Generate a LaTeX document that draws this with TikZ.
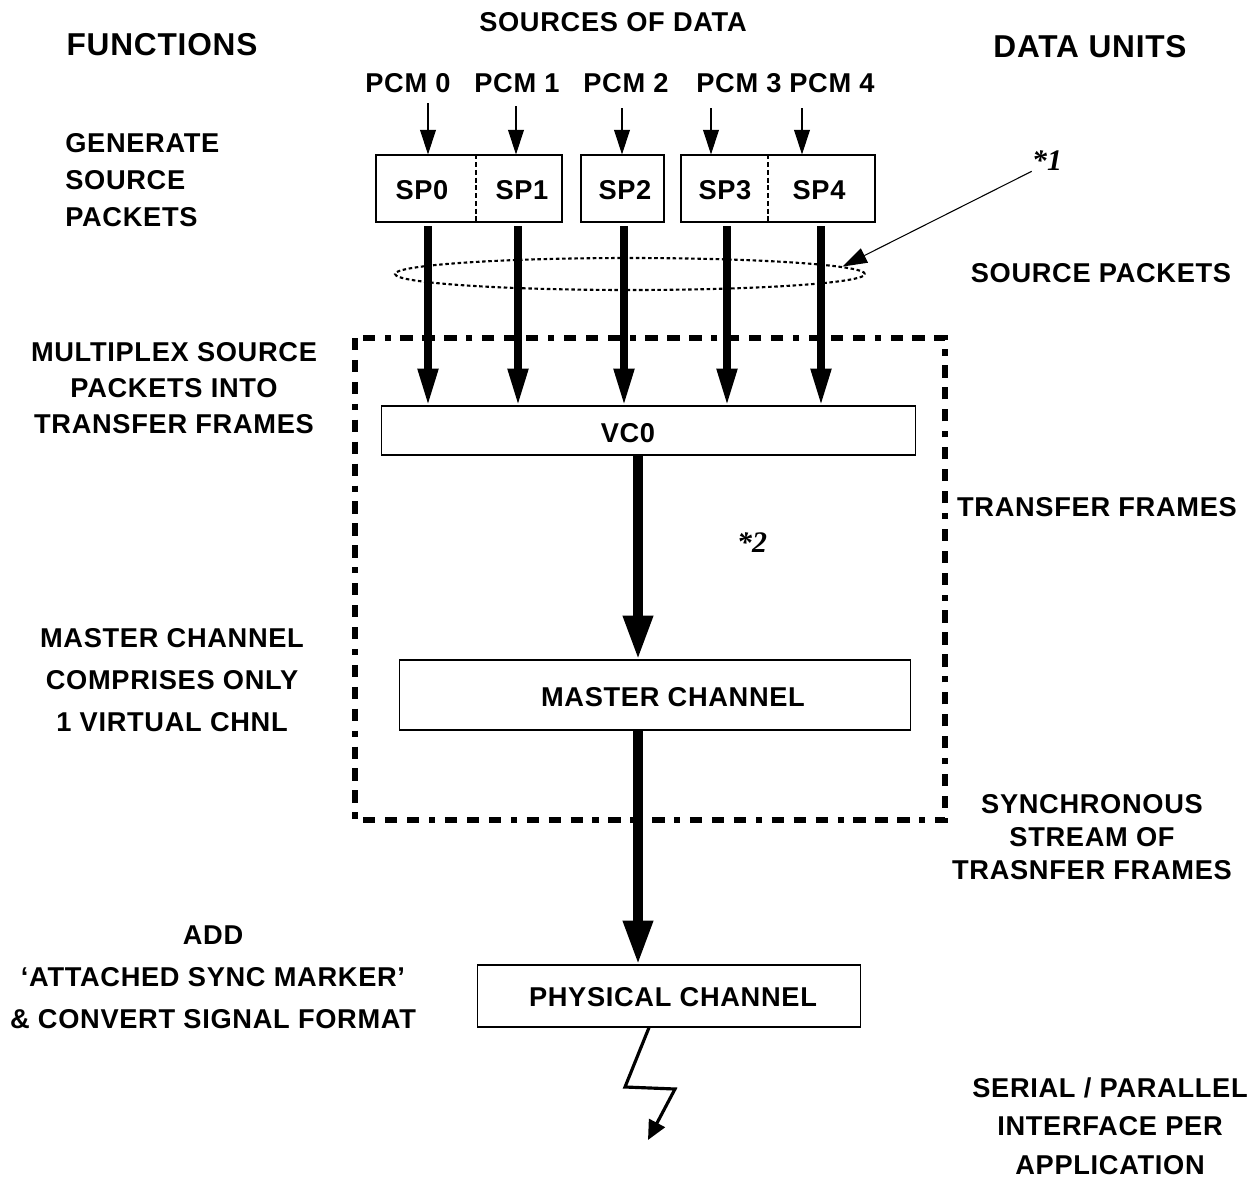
\documentclass[tikz,border=0pt]{standalone}
\usepackage{fontspec}
\setmainfont{Liberation Sans}[LetterSpace=2.5]
\newfontfamily\notefont{Liberation Serif}
\usetikzlibrary{arrows.meta,positioning,shapes.geometric}

\begin{document}
\begin{tikzpicture}[x=0.02cm, y=-0.02cm,
    txt/.style={font=\fontsize{15.5}{#1}\selectfont\bfseries, align=center, inner sep=0pt},
    txt/.default=21pt,
    head/.style={font=\fontsize{18}{22}\selectfont\bfseries, inner sep=0pt},
    note/.style={font=\notefont\fontsize{17}{20}\selectfont\bfseries\itshape, inner sep=0pt},
    box/.style={rectangle, draw, line width=0.6pt, inner sep=0pt},
    divider/.style={line width=1.2pt, dash pattern=on 2.8pt off 1.6pt},
    ring/.style={ellipse, draw, line width=1.2pt, dash pattern=on 2pt off 1.5pt, inner sep=0pt},
    pcm/.style={-{Triangle[length=14pt, width=9pt]}, line width=0.6pt},
    feed/.style={-{Triangle[length=21pt, width=11pt]}, line width=4pt},
    trunk/.style={-{Triangle[length=25pt, width=16pt]}, line width=5.4pt},
    bolt/.style={-{Triangle[length=11pt, width=10pt]}, line width=1.8pt, line join=miter},
    frame/.style={line width=3.2pt, dash pattern=on 7pt off 5.5pt on 7pt off 5.5pt on 7pt off 5.5pt on 3.5pt off 5.5pt}
]
\useasboundingbox (0,0) rectangle (1259,1184);

% Headings
\node[txt] (srcdata) at (613,22) {SOURCES OF DATA};
\node[head] (functions) at (162,45) {FUNCTIONS};
\node[head] (dataunits) at (1090,47) {DATA UNITS};

% Sources
\node[txt] (pcm0) at (408,83) {PCM 0};
\node[txt] (pcm1) at (517,83) {PCM 1};
\node[txt] (pcm2) at (626,83) {PCM 2};
\node[txt] (pcm3) at (739,83) {PCM 3};
\node[txt] (pcm4) at (832,83) {PCM 4};

% Source packets
\node[box, minimum width=3.72cm, minimum height=1.34cm] (grpA) at (469,188.5) {};
\node[box, minimum width=1.66cm, minimum height=1.34cm] (grpB) at (622.5,188.5) {};
\node[box, minimum width=3.88cm, minimum height=1.34cm] (grpC) at (778,188.5) {};
\coordinate (cutA) at (476,188);
\coordinate (cutC) at (768,188);
\draw[divider] (cutA |- grpA.north) -- (cutA |- grpA.south);
\draw[divider] (cutC |- grpC.north) -- (cutC |- grpC.south);
\node[txt] (sp0) at (422,190) {SP0};
\node[txt] (sp1) at (522,190) {SP1};
\node[txt] (sp2) at (625,190) {SP2};
\node[txt] (sp3) at (725,190) {SP3};
\node[txt] (sp4) at (819,190) {SP4};

\node[ring, minimum width=9.4cm, minimum height=0.64cm] (pktring) at (630,274) {};
\node[note] (star1) at (1047,161) {*1};

% Frames
\draw[frame] (355,338) rectangle (945,820);
\node[box, minimum width=10.7cm, minimum height=0.98cm] (vc0) at (648.5,430.5) {};
\node[txt] (vc0txt) at (628,433) {VC0};
\node[note] (star2) at (752,543) {*2};
\node[box, minimum width=10.24cm, minimum height=1.4cm] (master) at (655,695) {};
\node[txt] (mastertxt) at (673,697) {MASTER CHANNEL};
\node[box, minimum width=7.68cm, minimum height=1.24cm] (phys) at (669,996) {};
\node[txt] (phystxt) at (673,997) {PHYSICAL CHANNEL};

% Functions
\node[txt, align=left, anchor=west] (generate) at (65,180) {GENERATE\\SOURCE\\PACKETS};
\node[txt=20.5pt] (multiplex) at (174,388) {MULTIPLEX SOURCE\\PACKETS INTO\\TRANSFER FRAMES};
\node[txt=23.8pt] (comprises) at (172,680) {MASTER CHANNEL\\COMPRISES ONLY\\1 VIRTUAL CHNL};
\node[txt=23.8pt] (addasm) at (213,977) {ADD\\‘ATTACHED SYNC MARKER’\\\& CONVERT SIGNAL FORMAT};

% Data units
\node[txt] (unitsp) at (1101,273) {SOURCE PACKETS};
\node[txt] (unittf) at (1097,507) {TRANSFER FRAMES};
\node[txt=19pt] (unitsync) at (1092,837) {SYNCHRONOUS\\STREAM OF\\TRASNFER FRAMES};
\node[txt=22pt] (unitserial) at (1110,1126) {SERIAL / PARALLEL\\INTERFACE PER\\APPLICATION};

% Arrows
\coordinate (in0) at (428,103);
\coordinate (in1) at (516,106);
\coordinate (in2) at (622,108);
\coordinate (in3) at (711,108);
\coordinate (in4) at (802,108);
\draw[pcm] (in0) -- (in0 |- grpA.north);
\draw[pcm] (in1) -- (in1 |- grpA.north);
\draw[pcm] (in2) -- (in2 |- grpB.north);
\draw[pcm] (in3) -- (in3 |- grpC.north);
\draw[pcm] (in4) -- (in4 |- grpC.north);

\coordinate (out0) at (428,226);
\coordinate (out1) at (518,226);
\coordinate (out2) at (624,226);
\coordinate (out3) at (727,226);
\coordinate (out4) at (821,226);
\draw[feed] (out0) -- (out0 |- vc0.north);
\draw[feed] (out1) -- (out1 |- vc0.north);
\draw[feed] (out2) -- (out2 |- vc0.north);
\draw[feed] (out3) -- (out3 |- vc0.north);
\draw[feed] (out4) -- (out4 |- vc0.north);

\draw[pcm] (star1.south west) -- (pktring.2);

\coordinate (spine) at (638,600);
\draw[trunk] (spine |- vc0.south) -- (spine |- master.north);
\draw[trunk] (spine |- master.south) -- (spine |- phys.north);

\coordinate (bolt1) at (625,1087);
\coordinate (bolt2) at (675,1089);
\coordinate (boltend) at (648,1140);
\draw[bolt] ([xshift=-0.4cm]phys.south) -- (bolt1) -- (bolt2) -- (boltend);

\end{tikzpicture}
\end{document}
